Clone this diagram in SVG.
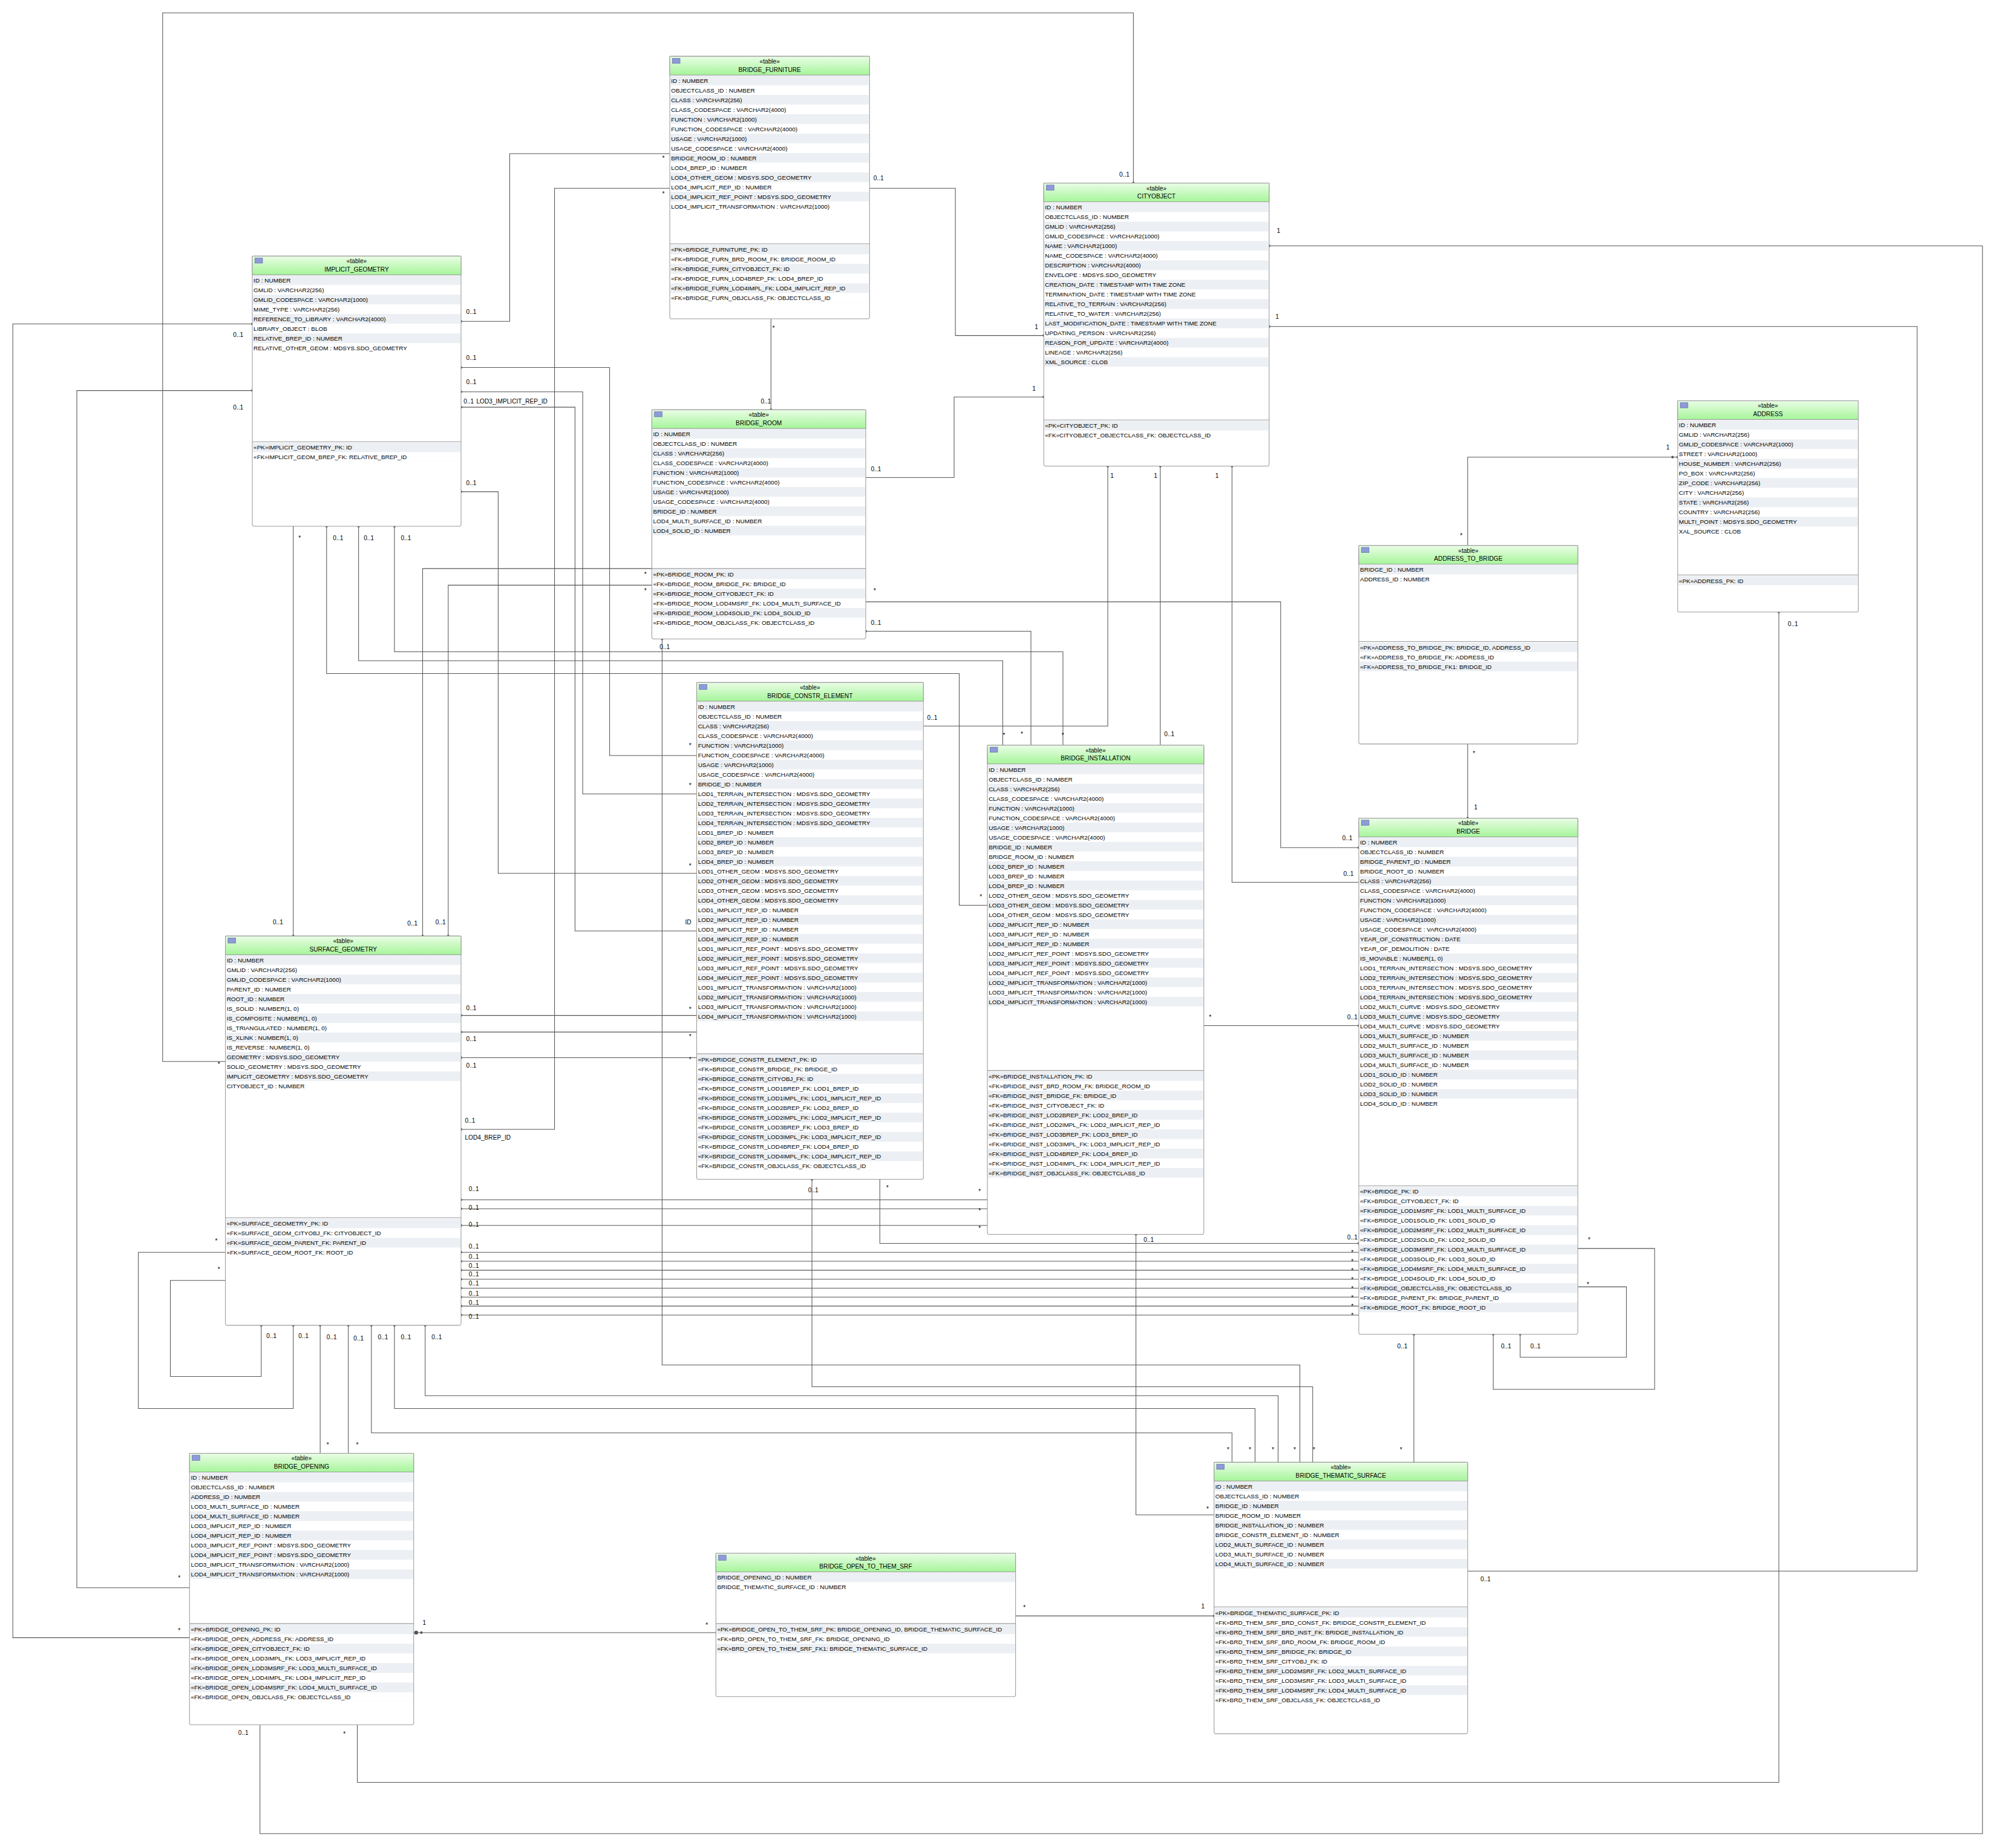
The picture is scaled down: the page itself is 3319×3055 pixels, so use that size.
<svg xmlns="http://www.w3.org/2000/svg" width="3319" height="3055" viewBox="0 0 3319 3055">
<defs>
<linearGradient id="hg" x1="0" y1="0" x2="0" y2="1"><stop offset="0" stop-color="#eafde6"/><stop offset="1" stop-color="#a6f59a"/></linearGradient>
<pattern id="stripe" patternUnits="userSpaceOnUse" width="400" height="15.12"><rect width="400" height="7.56" fill="#eceff3"/></pattern>
<style>
.box{fill:#fff;stroke:#9a9a9a;stroke-width:0.5}
.hdr{fill:url(#hg);stroke:#9a9a9a;stroke-width:0.5}
.ico{fill:#8f9ad8;stroke:#5a64a8;stroke-width:0.3}
.sep{stroke:#9a9a9a;stroke-width:0.5}
.st,.nm{font-family:"Liberation Sans",Arial,sans-serif;font-size:4.8px;text-anchor:middle;fill:#000}
.tx{font-family:"Liberation Sans",Arial,sans-serif;font-size:4.7px;fill:#000}
.stp{fill:url(#stripe)}
#conn polyline{fill:none;stroke:#555;stroke-width:0.5}
#conn circle{fill:#555}
.lb{font-family:"Liberation Sans",Arial,sans-serif;font-size:4.8px;fill:#000}
</style>
</defs>
<rect width="3319" height="3055" fill="#fff"/>
<g transform="scale(2.1168)">
<g id="conn">
<polyline points="176,829 127,829 127,10 885,10 885,143"/>
<polyline points="523,120 398,120 398,251 360,251"/>
<polyline points="523,147 433,147 433,882 360,882"/>
<polyline points="679,147 746,147 746,262 815,262"/>
<polyline points="602,248 602,320"/>
<polyline points="676,373 745,373 745,310 815,310"/>
<polyline points="991,192 1548,192 1548,1432 203,1432 203,1347"/>
<polyline points="991,255 1497,255 1497,1227 1146,1227"/>
<polyline points="865,364 865,567 721,567"/>
<polyline points="906,364 906,582"/>
<polyline points="962,364 962,689 1061,689"/>
<polyline points="1146,426 1146,357 1310,357"/>
<polyline points="1389,478 1389,1392 279,1392 279,1347"/>
<polyline points="1146,581 1146,639"/>
<polyline points="676,470 1000,470 1000,662 1061,662"/>
<polyline points="676,493 805,493 805,582"/>
<polyline points="360,287 476,287 476,590 544,590"/>
<polyline points="360,306 455,306 455,620 544,620"/>
<polyline points="360,318 449,318 449,727 544,727"/>
<polyline points="360,384 389,384 389,682 544,682"/>
<polyline points="229,411 229,731"/>
<polyline points="255,411 255,526 749,526 749,707 771,707"/>
<polyline points="280,411 280,516 783,516 783,582"/>
<polyline points="308,411 308,509 830,509 830,582"/>
<polyline points="509,444 330,444 330,731"/>
<polyline points="509,457 350,457 350,731"/>
<polyline points="360,793 544,793"/>
<polyline points="360,806 544,806"/>
<polyline points="360,826 544,826"/>
<polyline points="360,937 771,937"/>
<polyline points="360,944 771,944"/>
<polyline points="360,957 771,957"/>
<polyline points="940,801 1061,801"/>
<polyline points="687,921 687,971 1061,971"/>
<polyline points="360,978 1061,978"/>
<polyline points="360,985 1061,985"/>
<polyline points="360,992 1061,992"/>
<polyline points="360,999 1061,999"/>
<polyline points="360,1006 1061,1006"/>
<polyline points="360,1013 1061,1013"/>
<polyline points="360,1020 1061,1020"/>
<polyline points="360,1027 1061,1027"/>
<polyline points="887,964 887,1183 948,1183"/>
<polyline points="634,921 634,1083 1025,1083 1025,1142"/>
<polyline points="517,499 517,1066 1015,1066 1015,1142"/>
<polyline points="1104,1042 1104,1142"/>
<polyline points="204,1035 204,1075 133,1075 133,1000 176,1000"/>
<polyline points="229,1035 229,1100 108,1100 108,978 176,978"/>
<polyline points="250,1035 250,1135"/>
<polyline points="272,1035 272,1135"/>
<polyline points="290,1035 290,1119 962,1119 962,1142"/>
<polyline points="308,1035 308,1100 980,1100 980,1142"/>
<polyline points="332,1035 332,1090 998,1090 998,1142"/>
<polyline points="1232,1005 1270,1005 1270,1060 1187,1060 1187,1042"/>
<polyline points="1232,975 1292,975 1292,1085 1166,1085 1166,1042"/>
<polyline points="323,1275 559,1275"/>
<polyline points="793,1262 948,1262"/>
<polyline points="197,253 10,253 10,1279 148,1279"/>
<polyline points="197,305 60,305 60,1240 148,1240"/>
<circle cx="885" cy="143" r="1"/><circle cx="360" cy="251" r="1"/><circle cx="360" cy="882" r="1"/><circle cx="815" cy="262" r="1"/>
<circle cx="602" cy="320" r="1"/><circle cx="815" cy="310" r="1"/><circle cx="991" cy="192" r="1"/><circle cx="991" cy="255" r="1"/>
<circle cx="865" cy="364" r="1"/><circle cx="906" cy="364" r="1"/><circle cx="962" cy="364" r="1"/><circle cx="1310" cy="357" r="1"/><circle cx="1306" cy="357" r="1"/>
<circle cx="1389" cy="478" r="1"/><circle cx="1146" cy="639" r="1"/><circle cx="1061" cy="662" r="1"/><circle cx="676" cy="493" r="1"/>
<circle cx="360" cy="287" r="1"/><circle cx="360" cy="306" r="1"/><circle cx="360" cy="318" r="1"/><circle cx="360" cy="384" r="1"/>
<circle cx="229" cy="731" r="1"/><circle cx="255" cy="411" r="1"/><circle cx="280" cy="411" r="1"/><circle cx="308" cy="411" r="1"/>
<circle cx="330" cy="731" r="1"/><circle cx="350" cy="731" r="1"/><circle cx="360" cy="793" r="1"/><circle cx="360" cy="806" r="1"/><circle cx="360" cy="826" r="1"/>
<circle cx="360" cy="937" r="1"/><circle cx="360" cy="944" r="1"/><circle cx="360" cy="957" r="1"/><circle cx="1061" cy="801" r="1"/><circle cx="1061" cy="971" r="1"/>
<circle cx="360" cy="978" r="1"/><circle cx="360" cy="985" r="1"/><circle cx="360" cy="992" r="1"/><circle cx="360" cy="999" r="1"/><circle cx="360" cy="1006" r="1"/><circle cx="360" cy="1013" r="1"/><circle cx="360" cy="1020" r="1"/><circle cx="360" cy="1027" r="1"/>
<circle cx="887" cy="964" r="1"/><circle cx="634" cy="921" r="1"/><circle cx="517" cy="499" r="1"/><circle cx="1104" cy="1042" r="1"/>
<circle cx="204" cy="1035" r="1"/><circle cx="229" cy="1035" r="1"/><circle cx="250" cy="1035" r="1"/><circle cx="272" cy="1035" r="1"/><circle cx="290" cy="1035" r="1"/><circle cx="308" cy="1035" r="1"/><circle cx="332" cy="1035" r="1"/>
<circle cx="1187" cy="1042" r="1"/><circle cx="1166" cy="1042" r="1"/><circle cx="325" cy="1275" r="1.5"/><circle cx="329" cy="1275" r="1"/><circle cx="948" cy="1262" r="1"/>
<circle cx="197" cy="253" r="1"/><circle cx="197" cy="305" r="1"/>
<g class="lb">
<text x="170" y="833">*</text><text x="874" y="138">0..1</text>
<text x="517" y="125">*</text><text x="364" y="245">0..1</text>
<text x="517" y="153">*</text><text x="363" y="877">0..1</text><text x="363" y="890">LOD4_BREP_ID</text>
<text x="682" y="141">0..1</text><text x="808" y="257">1</text>
<text x="603" y="258">*</text><text x="594" y="315">0..1</text>
<text x="680" y="368">0..1</text><text x="806" y="305">1</text>
<text x="997" y="182">1</text><text x="186" y="1355">0..1</text>
<text x="996" y="249">1</text><text x="1156" y="1235">0..1</text>
<text x="867" y="373">1</text><text x="724" y="562">0..1</text>
<text x="901" y="373">1</text><text x="909" y="575">0..1</text>
<text x="949" y="373">1</text><text x="1049" y="684">0..1</text>
<text x="1140" y="420">*</text><text x="1301" y="351">1</text>
<text x="1396" y="489">0..1</text><text x="268" y="1356">*</text>
<text x="1150" y="590">*</text><text x="1151" y="632">1</text>
<text x="682" y="463">*</text><text x="1048" y="656">0..1</text>
<text x="680" y="488">0..1</text><text x="797" y="575">*</text>
<text x="364" y="281">0..1</text><text x="538" y="584">*</text>
<text x="364" y="300">0..1</text><text x="538" y="615">*</text>
<text x="362" y="315">0..1</text><text x="372" y="315">LOD3_IMPLICIT_REP_ID</text><text x="535" y="722">ID</text>
<text x="364" y="379">0..1</text><text x="538" y="678">*</text>
<text x="233" y="422">*</text><text x="213" y="722">0..1</text>
<text x="260" y="422">0..1</text><text x="765" y="702">*</text>
<text x="284" y="422">0..1</text><text x="783" y="576">*</text>
<text x="313" y="422">0..1</text><text x="829" y="576">*</text>
<text x="503" y="450">*</text><text x="318" y="723">0..1</text>
<text x="503" y="463">*</text><text x="340" y="722">0..1</text>
<text x="364" y="789">0..1</text><text x="538" y="790">*</text>
<text x="364" y="813">0..1</text><text x="538" y="811">*</text>
<text x="364" y="834">0..1</text><text x="538" y="829">*</text>
<text x="366" y="930">0..1</text><text x="764" y="932">*</text>
<text x="366" y="945">0..1</text><text x="764" y="947">*</text>
<text x="366" y="958">0..1</text><text x="764" y="961">*</text>
<text x="944" y="796">*</text><text x="1052" y="796">0..1</text>
<text x="692" y="929">*</text><text x="1052" y="968">0..1</text>
<text x="366" y="975">0..1</text><text x="366" y="983">0..1</text><text x="366" y="990">0..1</text><text x="366" y="997">0..1</text><text x="366" y="1004">0..1</text><text x="366" y="1012">0..1</text><text x="366" y="1019">0..1</text><text x="366" y="1030">0..1</text>
<text x="1055" y="980">*</text><text x="1055" y="987">*</text><text x="1055" y="994">*</text><text x="1055" y="1001">*</text><text x="1055" y="1008">*</text><text x="1055" y="1015">*</text><text x="1055" y="1022">*</text><text x="1055" y="1029">*</text>
<text x="893" y="970">0..1</text><text x="942" y="1180">*</text>
<text x="631" y="931">0..1</text><text x="1025" y="1134">*</text>
<text x="515" y="507">0..1</text><text x="1010" y="1134">*</text>
<text x="1091" y="1053">0..1</text><text x="1093" y="1134">*</text>
<text x="208" y="1045">0..1</text><text x="233" y="1045">0..1</text><text x="255" y="1046">0..1</text><text x="276" y="1047">0..1</text><text x="295" y="1046">0..1</text><text x="313" y="1046">0..1</text><text x="337" y="1046">0..1</text>
<text x="170" y="993">*</text><text x="168" y="971">*</text>
<text x="255" y="1130">*</text><text x="278" y="1130">*</text>
<text x="958" y="1134">*</text><text x="975" y="1134">*</text><text x="993" y="1134">*</text>
<text x="1239" y="1005">*</text><text x="1195" y="1053">0..1</text>
<text x="1240" y="970">*</text><text x="1172" y="1053">0..1</text>
<text x="330" y="1269">1</text><text x="551" y="1271">*</text>
<text x="799" y="1257">*</text><text x="938" y="1256">1</text>
<text x="182" y="263">0..1</text><text x="139" y="1275">*</text>
<text x="182" y="320">0..1</text><text x="139" y="1234">*</text>
</g>
</g>

<g id="BRIDGE_FURNITURE" transform="translate(523,44)">
<rect class="box" width="156" height="205" rx="1.5"/><rect class="hdr" width="156" height="14.6"/><rect class="ico" x="2" y="1.5" width="6" height="4"/>
<text class="st" x="78" y="5.6">«table»</text><text class="nm" x="78" y="12">BRIDGE_FURNITURE</text>
<g transform="translate(0,15)"><rect class="stp" x="0.5" width="155" height="105.8"/>
<text class="tx"><tspan x="1" y="5.6">ID : NUMBER</tspan><tspan x="1" dy="7.56">OBJECTCLASS_ID : NUMBER</tspan><tspan x="1" dy="7.56">CLASS : VARCHAR2(256)</tspan><tspan x="1" dy="7.56">CLASS_CODESPACE : VARCHAR2(4000)</tspan><tspan x="1" dy="7.56">FUNCTION : VARCHAR2(1000)</tspan><tspan x="1" dy="7.56">FUNCTION_CODESPACE : VARCHAR2(4000)</tspan><tspan x="1" dy="7.56">USAGE : VARCHAR2(1000)</tspan><tspan x="1" dy="7.56">USAGE_CODESPACE : VARCHAR2(4000)</tspan><tspan x="1" dy="7.56">BRIDGE_ROOM_ID : NUMBER</tspan><tspan x="1" dy="7.56">LOD4_BREP_ID : NUMBER</tspan><tspan x="1" dy="7.56">LOD4_OTHER_GEOM : MDSYS.SDO_GEOMETRY</tspan><tspan x="1" dy="7.56">LOD4_IMPLICIT_REP_ID : NUMBER</tspan><tspan x="1" dy="7.56">LOD4_IMPLICIT_REF_POINT : MDSYS.SDO_GEOMETRY</tspan><tspan x="1" dy="7.56">LOD4_IMPLICIT_TRANSFORMATION : VARCHAR2(1000)</tspan></text></g>
<line class="sep" x1="0" y1="146.4" x2="156" y2="146.4"/>
<g transform="translate(0,147)"><rect class="stp" x="0.5" width="155" height="45.4"/>
<text class="tx"><tspan x="1" y="5.6">«PK»BRIDGE_FURNITURE_PK: ID</tspan><tspan x="1" dy="7.56">«FK»BRIDGE_FURN_BRD_ROOM_FK: BRIDGE_ROOM_ID</tspan><tspan x="1" dy="7.56">«FK»BRIDGE_FURN_CITYOBJECT_FK: ID</tspan><tspan x="1" dy="7.56">«FK»BRIDGE_FURN_LOD4BREP_FK: LOD4_BREP_ID</tspan><tspan x="1" dy="7.56">«FK»BRIDGE_FURN_LOD4IMPL_FK: LOD4_IMPLICIT_REP_ID</tspan><tspan x="1" dy="7.56">«FK»BRIDGE_FURN_OBJCLASS_FK: OBJECTCLASS_ID</tspan></text></g>
</g>

<g id="CITYOBJECT" transform="translate(815,143)">
<rect class="box" width="176" height="221" rx="1.5"/><rect class="hdr" width="176" height="14.6"/><rect class="ico" x="2" y="1.5" width="6" height="4"/>
<text class="st" x="88" y="5.6">«table»</text><text class="nm" x="88" y="12">CITYOBJECT</text>
<g transform="translate(0,15)"><rect class="stp" x="0.5" width="175" height="128.5"/>
<text class="tx"><tspan x="1" y="5.6">ID : NUMBER</tspan><tspan x="1" dy="7.56">OBJECTCLASS_ID : NUMBER</tspan><tspan x="1" dy="7.56">GMLID : VARCHAR2(256)</tspan><tspan x="1" dy="7.56">GMLID_CODESPACE : VARCHAR2(1000)</tspan><tspan x="1" dy="7.56">NAME : VARCHAR2(1000)</tspan><tspan x="1" dy="7.56">NAME_CODESPACE : VARCHAR2(4000)</tspan><tspan x="1" dy="7.56">DESCRIPTION : VARCHAR2(4000)</tspan><tspan x="1" dy="7.56">ENVELOPE : MDSYS.SDO_GEOMETRY</tspan><tspan x="1" dy="7.56">CREATION_DATE : TIMESTAMP WITH TIME ZONE</tspan><tspan x="1" dy="7.56">TERMINATION_DATE : TIMESTAMP WITH TIME ZONE</tspan><tspan x="1" dy="7.56">RELATIVE_TO_TERRAIN : VARCHAR2(256)</tspan><tspan x="1" dy="7.56">RELATIVE_TO_WATER : VARCHAR2(256)</tspan><tspan x="1" dy="7.56">LAST_MODIFICATION_DATE : TIMESTAMP WITH TIME ZONE</tspan><tspan x="1" dy="7.56">UPDATING_PERSON : VARCHAR2(256)</tspan><tspan x="1" dy="7.56">REASON_FOR_UPDATE : VARCHAR2(4000)</tspan><tspan x="1" dy="7.56">LINEAGE : VARCHAR2(256)</tspan><tspan x="1" dy="7.56">XML_SOURCE : CLOB</tspan></text></g>
<line class="sep" x1="0" y1="185" x2="176" y2="185"/>
<g transform="translate(0,185.6)"><rect class="stp" x="0.5" width="175" height="15.12"/>
<text class="tx"><tspan x="1" y="5.6">«PK»CITYOBJECT_PK: ID</tspan><tspan x="1" dy="7.56">«FK»CITYOBJECT_OBJECTCLASS_FK: OBJECTCLASS_ID</tspan></text></g>
</g>

<g id="IMPLICIT_GEOMETRY" transform="translate(197,200)">
<rect class="box" width="163" height="211" rx="1.5"/><rect class="hdr" width="163" height="14.6"/><rect class="ico" x="2" y="1.5" width="6" height="4"/>
<text class="st" x="81.5" y="5.6">«table»</text><text class="nm" x="81.5" y="12">IMPLICIT_GEOMETRY</text>
<g transform="translate(0,15)"><rect class="stp" x="0.5" width="162" height="60.5"/>
<text class="tx"><tspan x="1" y="5.6">ID : NUMBER</tspan><tspan x="1" dy="7.56">GMLID : VARCHAR2(256)</tspan><tspan x="1" dy="7.56">GMLID_CODESPACE : VARCHAR2(1000)</tspan><tspan x="1" dy="7.56">MIME_TYPE : VARCHAR2(256)</tspan><tspan x="1" dy="7.56">REFERENCE_TO_LIBRARY : VARCHAR2(4000)</tspan><tspan x="1" dy="7.56">LIBRARY_OBJECT : BLOB</tspan><tspan x="1" dy="7.56">RELATIVE_BREP_ID : NUMBER</tspan><tspan x="1" dy="7.56">RELATIVE_OTHER_GEOM : MDSYS.SDO_GEOMETRY</tspan></text></g>
<line class="sep" x1="0" y1="145" x2="163" y2="145"/>
<g transform="translate(0,145.6)"><rect class="stp" x="0.5" width="162" height="15.12"/>
<text class="tx"><tspan x="1" y="5.6">«PK»IMPLICIT_GEOMETRY_PK: ID</tspan><tspan x="1" dy="7.56">«FK»IMPLICIT_GEOM_BREP_FK: RELATIVE_BREP_ID</tspan></text></g>
</g>

<g id="BRIDGE_ROOM" transform="translate(509,320)">
<rect class="box" width="167" height="179" rx="1.5"/><rect class="hdr" width="167" height="14.6"/><rect class="ico" x="2" y="1.5" width="6" height="4"/>
<text class="st" x="83.5" y="5.6">«table»</text><text class="nm" x="83.5" y="12">BRIDGE_ROOM</text>
<g transform="translate(0,15)"><rect class="stp" x="0.5" width="166" height="83.2"/>
<text class="tx"><tspan x="1" y="5.6">ID : NUMBER</tspan><tspan x="1" dy="7.56">OBJECTCLASS_ID : NUMBER</tspan><tspan x="1" dy="7.56">CLASS : VARCHAR2(256)</tspan><tspan x="1" dy="7.56">CLASS_CODESPACE : VARCHAR2(4000)</tspan><tspan x="1" dy="7.56">FUNCTION : VARCHAR2(1000)</tspan><tspan x="1" dy="7.56">FUNCTION_CODESPACE : VARCHAR2(4000)</tspan><tspan x="1" dy="7.56">USAGE : VARCHAR2(1000)</tspan><tspan x="1" dy="7.56">USAGE_CODESPACE : VARCHAR2(4000)</tspan><tspan x="1" dy="7.56">BRIDGE_ID : NUMBER</tspan><tspan x="1" dy="7.56">LOD4_MULTI_SURFACE_ID : NUMBER</tspan><tspan x="1" dy="7.56">LOD4_SOLID_ID : NUMBER</tspan></text></g>
<line class="sep" x1="0" y1="124" x2="167" y2="124"/>
<g transform="translate(0,124.6)"><rect class="stp" x="0.5" width="166" height="45.4"/>
<text class="tx"><tspan x="1" y="5.6">«PK»BRIDGE_ROOM_PK: ID</tspan><tspan x="1" dy="7.56">«FK»BRIDGE_ROOM_BRIDGE_FK: BRIDGE_ID</tspan><tspan x="1" dy="7.56">«FK»BRIDGE_ROOM_CITYOBJECT_FK: ID</tspan><tspan x="1" dy="7.56">«FK»BRIDGE_ROOM_LOD4MSRF_FK: LOD4_MULTI_SURFACE_ID</tspan><tspan x="1" dy="7.56">«FK»BRIDGE_ROOM_LOD4SOLID_FK: LOD4_SOLID_ID</tspan><tspan x="1" dy="7.56">«FK»BRIDGE_ROOM_OBJCLASS_FK: OBJECTCLASS_ID</tspan></text></g>
</g>

<g id="ADDRESS" transform="translate(1310,313)">
<rect class="box" width="141" height="165" rx="1.5"/><rect class="hdr" width="141" height="14.6"/><rect class="ico" x="2" y="1.5" width="6" height="4"/>
<text class="st" x="70.5" y="5.6">«table»</text><text class="nm" x="70.5" y="12">ADDRESS</text>
<g transform="translate(0,15)"><rect class="stp" x="0.5" width="140" height="90.7"/>
<text class="tx"><tspan x="1" y="5.6">ID : NUMBER</tspan><tspan x="1" dy="7.56">GMLID : VARCHAR2(256)</tspan><tspan x="1" dy="7.56">GMLID_CODESPACE : VARCHAR2(1000)</tspan><tspan x="1" dy="7.56">STREET : VARCHAR2(1000)</tspan><tspan x="1" dy="7.56">HOUSE_NUMBER : VARCHAR2(256)</tspan><tspan x="1" dy="7.56">PO_BOX : VARCHAR2(256)</tspan><tspan x="1" dy="7.56">ZIP_CODE : VARCHAR2(256)</tspan><tspan x="1" dy="7.56">CITY : VARCHAR2(256)</tspan><tspan x="1" dy="7.56">STATE : VARCHAR2(256)</tspan><tspan x="1" dy="7.56">COUNTRY : VARCHAR2(256)</tspan><tspan x="1" dy="7.56">MULTI_POINT : MDSYS.SDO_GEOMETRY</tspan><tspan x="1" dy="7.56">XAL_SOURCE : CLOB</tspan></text></g>
<line class="sep" x1="0" y1="136" x2="141" y2="136"/>
<g transform="translate(0,136.6)"><rect class="stp" x="0.5" width="140" height="7.56"/>
<text class="tx"><tspan x="1" y="5.6">«PK»ADDRESS_PK: ID</tspan></text></g>
</g>

<g id="ADDRESS_TO_BRIDGE" transform="translate(1061,426)">
<rect class="box" width="171" height="155" rx="1.5"/><rect class="hdr" width="171" height="14.6"/><rect class="ico" x="2" y="1.5" width="6" height="4"/>
<text class="st" x="85.5" y="5.6">«table»</text><text class="nm" x="85.5" y="12">ADDRESS_TO_BRIDGE</text>
<g transform="translate(0,15)"><rect class="stp" x="0.5" width="170" height="15.12"/>
<text class="tx"><tspan x="1" y="5.6">BRIDGE_ID : NUMBER</tspan><tspan x="1" dy="7.56">ADDRESS_ID : NUMBER</tspan></text></g>
<line class="sep" x1="0" y1="75" x2="171" y2="75"/>
<g transform="translate(0,75.6)"><rect class="stp" x="0.5" width="170" height="22.7"/>
<text class="tx"><tspan x="1" y="5.6">«PK»ADDRESS_TO_BRIDGE_PK: BRIDGE_ID, ADDRESS_ID</tspan><tspan x="1" dy="7.56">«FK»ADDRESS_TO_BRIDGE_FK: ADDRESS_ID</tspan><tspan x="1" dy="7.56">«FK»ADDRESS_TO_BRIDGE_FK1: BRIDGE_ID</tspan></text></g>
</g>

<g id="BRIDGE_CONSTR_ELEMENT" transform="translate(544,533)">
<rect class="box" width="177" height="388" rx="1.5"/><rect class="hdr" width="177" height="14.6"/><rect class="ico" x="2" y="1.5" width="6" height="4"/>
<text class="st" x="88.5" y="5.6">«table»</text><text class="nm" x="88.5" y="12">BRIDGE_CONSTR_ELEMENT</text>
<g transform="translate(0,15)"><rect class="stp" x="0.5" width="176" height="249.5"/>
<text class="tx"><tspan x="1" y="5.6">ID : NUMBER</tspan><tspan x="1" dy="7.56">OBJECTCLASS_ID : NUMBER</tspan><tspan x="1" dy="7.56">CLASS : VARCHAR2(256)</tspan><tspan x="1" dy="7.56">CLASS_CODESPACE : VARCHAR2(4000)</tspan><tspan x="1" dy="7.56">FUNCTION : VARCHAR2(1000)</tspan><tspan x="1" dy="7.56">FUNCTION_CODESPACE : VARCHAR2(4000)</tspan><tspan x="1" dy="7.56">USAGE : VARCHAR2(1000)</tspan><tspan x="1" dy="7.56">USAGE_CODESPACE : VARCHAR2(4000)</tspan><tspan x="1" dy="7.56">BRIDGE_ID : NUMBER</tspan><tspan x="1" dy="7.56">LOD1_TERRAIN_INTERSECTION : MDSYS.SDO_GEOMETRY</tspan><tspan x="1" dy="7.56">LOD2_TERRAIN_INTERSECTION : MDSYS.SDO_GEOMETRY</tspan><tspan x="1" dy="7.56">LOD3_TERRAIN_INTERSECTION : MDSYS.SDO_GEOMETRY</tspan><tspan x="1" dy="7.56">LOD4_TERRAIN_INTERSECTION : MDSYS.SDO_GEOMETRY</tspan><tspan x="1" dy="7.56">LOD1_BREP_ID : NUMBER</tspan><tspan x="1" dy="7.56">LOD2_BREP_ID : NUMBER</tspan><tspan x="1" dy="7.56">LOD3_BREP_ID : NUMBER</tspan><tspan x="1" dy="7.56">LOD4_BREP_ID : NUMBER</tspan><tspan x="1" dy="7.56">LOD1_OTHER_GEOM : MDSYS.SDO_GEOMETRY</tspan><tspan x="1" dy="7.56">LOD2_OTHER_GEOM : MDSYS.SDO_GEOMETRY</tspan><tspan x="1" dy="7.56">LOD3_OTHER_GEOM : MDSYS.SDO_GEOMETRY</tspan><tspan x="1" dy="7.56">LOD4_OTHER_GEOM : MDSYS.SDO_GEOMETRY</tspan><tspan x="1" dy="7.56">LOD1_IMPLICIT_REP_ID : NUMBER</tspan><tspan x="1" dy="7.56">LOD2_IMPLICIT_REP_ID : NUMBER</tspan><tspan x="1" dy="7.56">LOD3_IMPLICIT_REP_ID : NUMBER</tspan><tspan x="1" dy="7.56">LOD4_IMPLICIT_REP_ID : NUMBER</tspan><tspan x="1" dy="7.56">LOD1_IMPLICIT_REF_POINT : MDSYS.SDO_GEOMETRY</tspan><tspan x="1" dy="7.56">LOD2_IMPLICIT_REF_POINT : MDSYS.SDO_GEOMETRY</tspan><tspan x="1" dy="7.56">LOD3_IMPLICIT_REF_POINT : MDSYS.SDO_GEOMETRY</tspan><tspan x="1" dy="7.56">LOD4_IMPLICIT_REF_POINT : MDSYS.SDO_GEOMETRY</tspan><tspan x="1" dy="7.56">LOD1_IMPLICIT_TRANSFORMATION : VARCHAR2(1000)</tspan><tspan x="1" dy="7.56">LOD2_IMPLICIT_TRANSFORMATION : VARCHAR2(1000)</tspan><tspan x="1" dy="7.56">LOD3_IMPLICIT_TRANSFORMATION : VARCHAR2(1000)</tspan><tspan x="1" dy="7.56">LOD4_IMPLICIT_TRANSFORMATION : VARCHAR2(1000)</tspan></text></g>
<line class="sep" x1="0" y1="290" x2="177" y2="290"/>
<g transform="translate(0,290.6)"><rect class="stp" x="0.5" width="176" height="90.7"/>
<text class="tx"><tspan x="1" y="5.6">«PK»BRIDGE_CONSTR_ELEMENT_PK: ID</tspan><tspan x="1" dy="7.56">«FK»BRIDGE_CONSTR_BRIDGE_FK: BRIDGE_ID</tspan><tspan x="1" dy="7.56">«FK»BRIDGE_CONSTR_CITYOBJ_FK: ID</tspan><tspan x="1" dy="7.56">«FK»BRIDGE_CONSTR_LOD1BREP_FK: LOD1_BREP_ID</tspan><tspan x="1" dy="7.56">«FK»BRIDGE_CONSTR_LOD1IMPL_FK: LOD1_IMPLICIT_REP_ID</tspan><tspan x="1" dy="7.56">«FK»BRIDGE_CONSTR_LOD2BREP_FK: LOD2_BREP_ID</tspan><tspan x="1" dy="7.56">«FK»BRIDGE_CONSTR_LOD2IMPL_FK: LOD2_IMPLICIT_REP_ID</tspan><tspan x="1" dy="7.56">«FK»BRIDGE_CONSTR_LOD3BREP_FK: LOD3_BREP_ID</tspan><tspan x="1" dy="7.56">«FK»BRIDGE_CONSTR_LOD3IMPL_FK: LOD3_IMPLICIT_REP_ID</tspan><tspan x="1" dy="7.56">«FK»BRIDGE_CONSTR_LOD4BREP_FK: LOD4_BREP_ID</tspan><tspan x="1" dy="7.56">«FK»BRIDGE_CONSTR_LOD4IMPL_FK: LOD4_IMPLICIT_REP_ID</tspan><tspan x="1" dy="7.56">«FK»BRIDGE_CONSTR_OBJCLASS_FK: OBJECTCLASS_ID</tspan></text></g>
</g>

<g id="BRIDGE_INSTALLATION" transform="translate(771,582)">
<rect class="box" width="169" height="382" rx="1.5"/><rect class="hdr" width="169" height="14.6"/><rect class="ico" x="2" y="1.5" width="6" height="4"/>
<text class="st" x="84.5" y="5.6">«table»</text><text class="nm" x="84.5" y="12">BRIDGE_INSTALLATION</text>
<g transform="translate(0,15)"><rect class="stp" x="0.5" width="168" height="189"/>
<text class="tx"><tspan x="1" y="5.6">ID : NUMBER</tspan><tspan x="1" dy="7.56">OBJECTCLASS_ID : NUMBER</tspan><tspan x="1" dy="7.56">CLASS : VARCHAR2(256)</tspan><tspan x="1" dy="7.56">CLASS_CODESPACE : VARCHAR2(4000)</tspan><tspan x="1" dy="7.56">FUNCTION : VARCHAR2(1000)</tspan><tspan x="1" dy="7.56">FUNCTION_CODESPACE : VARCHAR2(4000)</tspan><tspan x="1" dy="7.56">USAGE : VARCHAR2(1000)</tspan><tspan x="1" dy="7.56">USAGE_CODESPACE : VARCHAR2(4000)</tspan><tspan x="1" dy="7.56">BRIDGE_ID : NUMBER</tspan><tspan x="1" dy="7.56">BRIDGE_ROOM_ID : NUMBER</tspan><tspan x="1" dy="7.56">LOD2_BREP_ID : NUMBER</tspan><tspan x="1" dy="7.56">LOD3_BREP_ID : NUMBER</tspan><tspan x="1" dy="7.56">LOD4_BREP_ID : NUMBER</tspan><tspan x="1" dy="7.56">LOD2_OTHER_GEOM : MDSYS.SDO_GEOMETRY</tspan><tspan x="1" dy="7.56">LOD3_OTHER_GEOM : MDSYS.SDO_GEOMETRY</tspan><tspan x="1" dy="7.56">LOD4_OTHER_GEOM : MDSYS.SDO_GEOMETRY</tspan><tspan x="1" dy="7.56">LOD2_IMPLICIT_REP_ID : NUMBER</tspan><tspan x="1" dy="7.56">LOD3_IMPLICIT_REP_ID : NUMBER</tspan><tspan x="1" dy="7.56">LOD4_IMPLICIT_REP_ID : NUMBER</tspan><tspan x="1" dy="7.56">LOD2_IMPLICIT_REF_POINT : MDSYS.SDO_GEOMETRY</tspan><tspan x="1" dy="7.56">LOD3_IMPLICIT_REF_POINT : MDSYS.SDO_GEOMETRY</tspan><tspan x="1" dy="7.56">LOD4_IMPLICIT_REF_POINT : MDSYS.SDO_GEOMETRY</tspan><tspan x="1" dy="7.56">LOD2_IMPLICIT_TRANSFORMATION : VARCHAR2(1000)</tspan><tspan x="1" dy="7.56">LOD3_IMPLICIT_TRANSFORMATION : VARCHAR2(1000)</tspan><tspan x="1" dy="7.56">LOD4_IMPLICIT_TRANSFORMATION : VARCHAR2(1000)</tspan></text></g>
<line class="sep" x1="0" y1="254" x2="169" y2="254"/>
<g transform="translate(0,254.6)"><rect class="stp" x="0.5" width="168" height="83.2"/>
<text class="tx"><tspan x="1" y="5.6">«PK»BRIDGE_INSTALLATION_PK: ID</tspan><tspan x="1" dy="7.56">«FK»BRIDGE_INST_BRD_ROOM_FK: BRIDGE_ROOM_ID</tspan><tspan x="1" dy="7.56">«FK»BRIDGE_INST_BRIDGE_FK: BRIDGE_ID</tspan><tspan x="1" dy="7.56">«FK»BRIDGE_INST_CITYOBJECT_FK: ID</tspan><tspan x="1" dy="7.56">«FK»BRIDGE_INST_LOD2BREP_FK: LOD2_BREP_ID</tspan><tspan x="1" dy="7.56">«FK»BRIDGE_INST_LOD2IMPL_FK: LOD2_IMPLICIT_REP_ID</tspan><tspan x="1" dy="7.56">«FK»BRIDGE_INST_LOD3BREP_FK: LOD3_BREP_ID</tspan><tspan x="1" dy="7.56">«FK»BRIDGE_INST_LOD3IMPL_FK: LOD3_IMPLICIT_REP_ID</tspan><tspan x="1" dy="7.56">«FK»BRIDGE_INST_LOD4BREP_FK: LOD4_BREP_ID</tspan><tspan x="1" dy="7.56">«FK»BRIDGE_INST_LOD4IMPL_FK: LOD4_IMPLICIT_REP_ID</tspan><tspan x="1" dy="7.56">«FK»BRIDGE_INST_OBJCLASS_FK: OBJECTCLASS_ID</tspan></text></g>
</g>

<g id="BRIDGE" transform="translate(1061,639)">
<rect class="box" width="171" height="403" rx="1.5"/><rect class="hdr" width="171" height="14.6"/><rect class="ico" x="2" y="1.5" width="6" height="4"/>
<text class="st" x="85.5" y="5.6">«table»</text><text class="nm" x="85.5" y="12">BRIDGE</text>
<g transform="translate(0,15)"><rect class="stp" x="0.5" width="170" height="204"/>
<text class="tx"><tspan x="1" y="5.6">ID : NUMBER</tspan><tspan x="1" dy="7.56">OBJECTCLASS_ID : NUMBER</tspan><tspan x="1" dy="7.56">BRIDGE_PARENT_ID : NUMBER</tspan><tspan x="1" dy="7.56">BRIDGE_ROOT_ID : NUMBER</tspan><tspan x="1" dy="7.56">CLASS : VARCHAR2(256)</tspan><tspan x="1" dy="7.56">CLASS_CODESPACE : VARCHAR2(4000)</tspan><tspan x="1" dy="7.56">FUNCTION : VARCHAR2(1000)</tspan><tspan x="1" dy="7.56">FUNCTION_CODESPACE : VARCHAR2(4000)</tspan><tspan x="1" dy="7.56">USAGE : VARCHAR2(1000)</tspan><tspan x="1" dy="7.56">USAGE_CODESPACE : VARCHAR2(4000)</tspan><tspan x="1" dy="7.56">YEAR_OF_CONSTRUCTION : DATE</tspan><tspan x="1" dy="7.56">YEAR_OF_DEMOLITION : DATE</tspan><tspan x="1" dy="7.56">IS_MOVABLE : NUMBER(1, 0)</tspan><tspan x="1" dy="7.56">LOD1_TERRAIN_INTERSECTION : MDSYS.SDO_GEOMETRY</tspan><tspan x="1" dy="7.56">LOD2_TERRAIN_INTERSECTION : MDSYS.SDO_GEOMETRY</tspan><tspan x="1" dy="7.56">LOD3_TERRAIN_INTERSECTION : MDSYS.SDO_GEOMETRY</tspan><tspan x="1" dy="7.56">LOD4_TERRAIN_INTERSECTION : MDSYS.SDO_GEOMETRY</tspan><tspan x="1" dy="7.56">LOD2_MULTI_CURVE : MDSYS.SDO_GEOMETRY</tspan><tspan x="1" dy="7.56">LOD3_MULTI_CURVE : MDSYS.SDO_GEOMETRY</tspan><tspan x="1" dy="7.56">LOD4_MULTI_CURVE : MDSYS.SDO_GEOMETRY</tspan><tspan x="1" dy="7.56">LOD1_MULTI_SURFACE_ID : NUMBER</tspan><tspan x="1" dy="7.56">LOD2_MULTI_SURFACE_ID : NUMBER</tspan><tspan x="1" dy="7.56">LOD3_MULTI_SURFACE_ID : NUMBER</tspan><tspan x="1" dy="7.56">LOD4_MULTI_SURFACE_ID : NUMBER</tspan><tspan x="1" dy="7.56">LOD1_SOLID_ID : NUMBER</tspan><tspan x="1" dy="7.56">LOD2_SOLID_ID : NUMBER</tspan><tspan x="1" dy="7.56">LOD3_SOLID_ID : NUMBER</tspan><tspan x="1" dy="7.56">LOD4_SOLID_ID : NUMBER</tspan></text></g>
<line class="sep" x1="0" y1="287" x2="171" y2="287"/>
<g transform="translate(0,287.6)"><rect class="stp" x="0.5" width="170" height="98.3"/>
<text class="tx"><tspan x="1" y="5.6">«PK»BRIDGE_PK: ID</tspan><tspan x="1" dy="7.56">«FK»BRIDGE_CITYOBJECT_FK: ID</tspan><tspan x="1" dy="7.56">«FK»BRIDGE_LOD1MSRF_FK: LOD1_MULTI_SURFACE_ID</tspan><tspan x="1" dy="7.56">«FK»BRIDGE_LOD1SOLID_FK: LOD1_SOLID_ID</tspan><tspan x="1" dy="7.56">«FK»BRIDGE_LOD2MSRF_FK: LOD2_MULTI_SURFACE_ID</tspan><tspan x="1" dy="7.56">«FK»BRIDGE_LOD2SOLID_FK: LOD2_SOLID_ID</tspan><tspan x="1" dy="7.56">«FK»BRIDGE_LOD3MSRF_FK: LOD3_MULTI_SURFACE_ID</tspan><tspan x="1" dy="7.56">«FK»BRIDGE_LOD3SOLID_FK: LOD3_SOLID_ID</tspan><tspan x="1" dy="7.56">«FK»BRIDGE_LOD4MSRF_FK: LOD4_MULTI_SURFACE_ID</tspan><tspan x="1" dy="7.56">«FK»BRIDGE_LOD4SOLID_FK: LOD4_SOLID_ID</tspan><tspan x="1" dy="7.56">«FK»BRIDGE_OBJECTCLASS_FK: OBJECTCLASS_ID</tspan><tspan x="1" dy="7.56">«FK»BRIDGE_PARENT_FK: BRIDGE_PARENT_ID</tspan><tspan x="1" dy="7.56">«FK»BRIDGE_ROOT_FK: BRIDGE_ROOT_ID</tspan></text></g>
</g>

<g id="SURFACE_GEOMETRY" transform="translate(176,731)">
<rect class="box" width="184" height="304" rx="1.5"/><rect class="hdr" width="184" height="14.6"/><rect class="ico" x="2" y="1.5" width="6" height="4"/>
<text class="st" x="92" y="5.6">«table»</text><text class="nm" x="92" y="12">SURFACE_GEOMETRY</text>
<g transform="translate(0,15)"><rect class="stp" x="0.5" width="183" height="105.8"/>
<text class="tx"><tspan x="1" y="5.6">ID : NUMBER</tspan><tspan x="1" dy="7.56">GMLID : VARCHAR2(256)</tspan><tspan x="1" dy="7.56">GMLID_CODESPACE : VARCHAR2(1000)</tspan><tspan x="1" dy="7.56">PARENT_ID : NUMBER</tspan><tspan x="1" dy="7.56">ROOT_ID : NUMBER</tspan><tspan x="1" dy="7.56">IS_SOLID : NUMBER(1, 0)</tspan><tspan x="1" dy="7.56">IS_COMPOSITE : NUMBER(1, 0)</tspan><tspan x="1" dy="7.56">IS_TRIANGULATED : NUMBER(1, 0)</tspan><tspan x="1" dy="7.56">IS_XLINK : NUMBER(1, 0)</tspan><tspan x="1" dy="7.56">IS_REVERSE : NUMBER(1, 0)</tspan><tspan x="1" dy="7.56">GEOMETRY : MDSYS.SDO_GEOMETRY</tspan><tspan x="1" dy="7.56">SOLID_GEOMETRY : MDSYS.SDO_GEOMETRY</tspan><tspan x="1" dy="7.56">IMPLICIT_GEOMETRY : MDSYS.SDO_GEOMETRY</tspan><tspan x="1" dy="7.56">CITYOBJECT_ID : NUMBER</tspan></text></g>
<line class="sep" x1="0" y1="220" x2="184" y2="220"/>
<g transform="translate(0,220.6)"><rect class="stp" x="0.5" width="183" height="30.24"/>
<text class="tx"><tspan x="1" y="5.6">«PK»SURFACE_GEOMETRY_PK: ID</tspan><tspan x="1" dy="7.56">«FK»SURFACE_GEOM_CITYOBJ_FK: CITYOBJECT_ID</tspan><tspan x="1" dy="7.56">«FK»SURFACE_GEOM_PARENT_FK: PARENT_ID</tspan><tspan x="1" dy="7.56">«FK»SURFACE_GEOM_ROOT_FK: ROOT_ID</tspan></text></g>
</g>

<g id="BRIDGE_OPENING" transform="translate(148,1135)">
<rect class="box" width="175" height="212" rx="1.5"/><rect class="hdr" width="175" height="14.6"/><rect class="ico" x="2" y="1.5" width="6" height="4"/>
<text class="st" x="87.5" y="5.6">«table»</text><text class="nm" x="87.5" y="12">BRIDGE_OPENING</text>
<g transform="translate(0,15)"><rect class="stp" x="0.5" width="174" height="83.2"/>
<text class="tx"><tspan x="1" y="5.6">ID : NUMBER</tspan><tspan x="1" dy="7.56">OBJECTCLASS_ID : NUMBER</tspan><tspan x="1" dy="7.56">ADDRESS_ID : NUMBER</tspan><tspan x="1" dy="7.56">LOD3_MULTI_SURFACE_ID : NUMBER</tspan><tspan x="1" dy="7.56">LOD4_MULTI_SURFACE_ID : NUMBER</tspan><tspan x="1" dy="7.56">LOD3_IMPLICIT_REP_ID : NUMBER</tspan><tspan x="1" dy="7.56">LOD4_IMPLICIT_REP_ID : NUMBER</tspan><tspan x="1" dy="7.56">LOD3_IMPLICIT_REF_POINT : MDSYS.SDO_GEOMETRY</tspan><tspan x="1" dy="7.56">LOD4_IMPLICIT_REF_POINT : MDSYS.SDO_GEOMETRY</tspan><tspan x="1" dy="7.56">LOD3_IMPLICIT_TRANSFORMATION : VARCHAR2(1000)</tspan><tspan x="1" dy="7.56">LOD4_IMPLICIT_TRANSFORMATION : VARCHAR2(1000)</tspan></text></g>
<line class="sep" x1="0" y1="133" x2="175" y2="133"/>
<g transform="translate(0,133.6)"><rect class="stp" x="0.5" width="174" height="60.5"/>
<text class="tx"><tspan x="1" y="5.6">«PK»BRIDGE_OPENING_PK: ID</tspan><tspan x="1" dy="7.56">«FK»BRIDGE_OPEN_ADDRESS_FK: ADDRESS_ID</tspan><tspan x="1" dy="7.56">«FK»BRIDGE_OPEN_CITYOBJECT_FK: ID</tspan><tspan x="1" dy="7.56">«FK»BRIDGE_OPEN_LOD3IMPL_FK: LOD3_IMPLICIT_REP_ID</tspan><tspan x="1" dy="7.56">«FK»BRIDGE_OPEN_LOD3MSRF_FK: LOD3_MULTI_SURFACE_ID</tspan><tspan x="1" dy="7.56">«FK»BRIDGE_OPEN_LOD4IMPL_FK: LOD4_IMPLICIT_REP_ID</tspan><tspan x="1" dy="7.56">«FK»BRIDGE_OPEN_LOD4MSRF_FK: LOD4_MULTI_SURFACE_ID</tspan><tspan x="1" dy="7.56">«FK»BRIDGE_OPEN_OBJCLASS_FK: OBJECTCLASS_ID</tspan></text></g>
</g>

<g id="BRIDGE_OPEN_TO_THEM_SRF" transform="translate(559,1213)">
<rect class="box" width="234" height="112" rx="1.5"/><rect class="hdr" width="234" height="14.6"/><rect class="ico" x="2" y="1.5" width="6" height="4"/>
<text class="st" x="117" y="5.6">«table»</text><text class="nm" x="117" y="12">BRIDGE_OPEN_TO_THEM_SRF</text>
<g transform="translate(0,15)"><rect class="stp" x="0.5" width="233" height="15.12"/>
<text class="tx"><tspan x="1" y="5.6">BRIDGE_OPENING_ID : NUMBER</tspan><tspan x="1" dy="7.56">BRIDGE_THEMATIC_SURFACE_ID : NUMBER</tspan></text></g>
<line class="sep" x1="0" y1="55" x2="234" y2="55"/>
<g transform="translate(0,55.6)"><rect class="stp" x="0.5" width="233" height="22.7"/>
<text class="tx"><tspan x="1" y="5.6">«PK»BRIDGE_OPEN_TO_THEM_SRF_PK: BRIDGE_OPENING_ID, BRIDGE_THEMATIC_SURFACE_ID</tspan><tspan x="1" dy="7.56">«FK»BRD_OPEN_TO_THEM_SRF_FK: BRIDGE_OPENING_ID</tspan><tspan x="1" dy="7.56">«FK»BRD_OPEN_TO_THEM_SRF_FK1: BRIDGE_THEMATIC_SURFACE_ID</tspan></text></g>
</g>

<g id="BRIDGE_THEMATIC_SURFACE" transform="translate(948,1142)">
<rect class="box" width="198" height="212" rx="1.5"/><rect class="hdr" width="198" height="14.6"/><rect class="ico" x="2" y="1.5" width="6" height="4"/>
<text class="st" x="99" y="5.6">«table»</text><text class="nm" x="99" y="12">BRIDGE_THEMATIC_SURFACE</text>
<g transform="translate(0,15)"><rect class="stp" x="0.5" width="197" height="68"/>
<text class="tx"><tspan x="1" y="5.6">ID : NUMBER</tspan><tspan x="1" dy="7.56">OBJECTCLASS_ID : NUMBER</tspan><tspan x="1" dy="7.56">BRIDGE_ID : NUMBER</tspan><tspan x="1" dy="7.56">BRIDGE_ROOM_ID : NUMBER</tspan><tspan x="1" dy="7.56">BRIDGE_INSTALLATION_ID : NUMBER</tspan><tspan x="1" dy="7.56">BRIDGE_CONSTR_ELEMENT_ID : NUMBER</tspan><tspan x="1" dy="7.56">LOD2_MULTI_SURFACE_ID : NUMBER</tspan><tspan x="1" dy="7.56">LOD3_MULTI_SURFACE_ID : NUMBER</tspan><tspan x="1" dy="7.56">LOD4_MULTI_SURFACE_ID : NUMBER</tspan></text></g>
<line class="sep" x1="0" y1="113" x2="198" y2="113"/>
<g transform="translate(0,113.6)"><rect class="stp" x="0.5" width="197" height="75.6"/>
<text class="tx"><tspan x="1" y="5.6">«PK»BRIDGE_THEMATIC_SURFACE_PK: ID</tspan><tspan x="1" dy="7.56">«FK»BRD_THEM_SRF_BRD_CONST_FK: BRIDGE_CONSTR_ELEMENT_ID</tspan><tspan x="1" dy="7.56">«FK»BRD_THEM_SRF_BRD_INST_FK: BRIDGE_INSTALLATION_ID</tspan><tspan x="1" dy="7.56">«FK»BRD_THEM_SRF_BRD_ROOM_FK: BRIDGE_ROOM_ID</tspan><tspan x="1" dy="7.56">«FK»BRD_THEM_SRF_BRIDGE_FK: BRIDGE_ID</tspan><tspan x="1" dy="7.56">«FK»BRD_THEM_SRF_CITYOBJ_FK: ID</tspan><tspan x="1" dy="7.56">«FK»BRD_THEM_SRF_LOD2MSRF_FK: LOD2_MULTI_SURFACE_ID</tspan><tspan x="1" dy="7.56">«FK»BRD_THEM_SRF_LOD3MSRF_FK: LOD3_MULTI_SURFACE_ID</tspan><tspan x="1" dy="7.56">«FK»BRD_THEM_SRF_LOD4MSRF_FK: LOD4_MULTI_SURFACE_ID</tspan><tspan x="1" dy="7.56">«FK»BRD_THEM_SRF_OBJCLASS_FK: OBJECTCLASS_ID</tspan></text></g>
</g>
</g>
</svg>
